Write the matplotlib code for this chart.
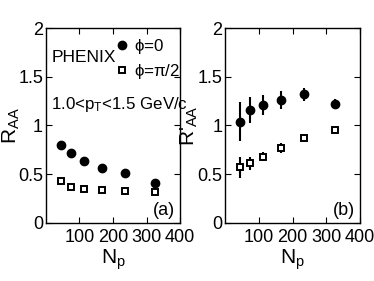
import matplotlib
matplotlib.use("Agg")
import matplotlib.pyplot as plt
from matplotlib.lines import Line2D

plt.rcParams['font.family'] = ['Liberation Sans', 'DejaVu Sans']
plt.rcParams['mathtext.fontset'] = 'custom'
plt.rcParams['mathtext.rm'] = 'Liberation Sans'
plt.rcParams['mathtext.it'] = 'Liberation Sans:italic'

# Data
npart = [45, 74, 114, 166, 235, 326]
raa_phi0 = [0.80, 0.72, 0.63, 0.56, 0.51, 0.41]
raa_phipi2 = [0.43, 0.37, 0.35, 0.34, 0.33, 0.32]
rpaa_phi0 = [1.04, 1.16, 1.21, 1.26, 1.32, 1.22]
rpaa_phi0_err = [0.20, 0.13, 0.10, 0.09, 0.07, 0.05]
rpaa_phipi2 = [0.57, 0.61, 0.68, 0.77, 0.87, 0.95]
rpaa_phipi2_err = [0.11, 0.07, 0.05, 0.05, 0.04, 0.03]
xticks = [100, 200, 300, 400]
yticks = [0, 0.5, 1, 1.5, 2]
yticklabels = ['0', '0.5', '1', '1.5', '2']

fig = plt.figure(figsize=(3.74, 2.81), dpi=100)
axa = fig.add_axes([0.1225, 0.2075, 0.359, 0.692])
axb = fig.add_axes([0.6016, 0.2075, 0.361, 0.692])

for ax in (axa, axb):
    ax.set_xlim(0, 400)
    ax.set_ylim(0, 2)
    ax.set_xticks(xticks)
    ax.set_yticks(yticks)
    ax.set_yticklabels(yticklabels)
    ax.tick_params(direction='in', length=4, width=0.8, top=True, right=True,
                   labelsize=13, pad=2, colors='black')
    ax.tick_params(axis='x', pad=4.5)
    for s in ax.spines.values():
        s.set_linewidth(1.0)
    ax.set_xlabel(r'N$_\mathregular{p}$', fontsize=15, labelpad=1)

axa.plot(npart, raa_phi0, 'o', color='black', markersize=6, linestyle='none')
axa.plot(npart, raa_phipi2, 's', markerfacecolor='white', markeredgecolor='black',
         markeredgewidth=1.4, markersize=4.3, linestyle='none')
axa.set_ylabel(r'R$_\mathregular{AA}$', fontsize=15, labelpad=-3)

h1 = Line2D([], [], marker='o', color='black', markersize=6, linestyle='none')
h2 = Line2D([], [], marker='s', markerfacecolor='white', markeredgecolor='black',
            markeredgewidth=1.4, markersize=4.3, linestyle='none')
axa.legend([h1, h2], [r'$\mathregular{\phi}$=0', r'$\mathregular{\phi}$=$\mathregular{\pi}$/2'],
           loc='upper right', bbox_to_anchor=(1.005, 0.955), frameon=False, fontsize=12.2,
           handlelength=0.6, handletextpad=0.45, borderaxespad=0.0, borderpad=0.0,
           labelspacing=0.35)
axa.text(0.04, 0.85, 'PHENIX', transform=axa.transAxes, fontsize=12.5,
         ha='left', va='center')
axa.text(0.04, 0.61, r'1.0<p$_\mathregular{T}$<1.5 GeV/c', transform=axa.transAxes,
         fontsize=12.2, ha='left', va='center')
axa.text(0.965, 0.02, '(a)', transform=axa.transAxes, fontsize=13, ha='right', va='bottom')

axb.errorbar(npart, rpaa_phi0, yerr=rpaa_phi0_err, fmt='o', color='black',
             markersize=6, elinewidth=1.5, capsize=0)
axb.errorbar(npart, rpaa_phipi2, yerr=rpaa_phipi2_err, fmt='s', color='black',
             markerfacecolor='white', markeredgecolor='black', markeredgewidth=1.4,
             markersize=4.3, elinewidth=1.5, capsize=0)
axb.set_ylabel(r"R$'_\mathregular{AA}$", fontsize=15, labelpad=-2)
axb.text(0.965, 0.02, '(b)', transform=axb.transAxes, fontsize=13, ha='right', va='bottom')

fig.savefig('out.png', dpi=100)
